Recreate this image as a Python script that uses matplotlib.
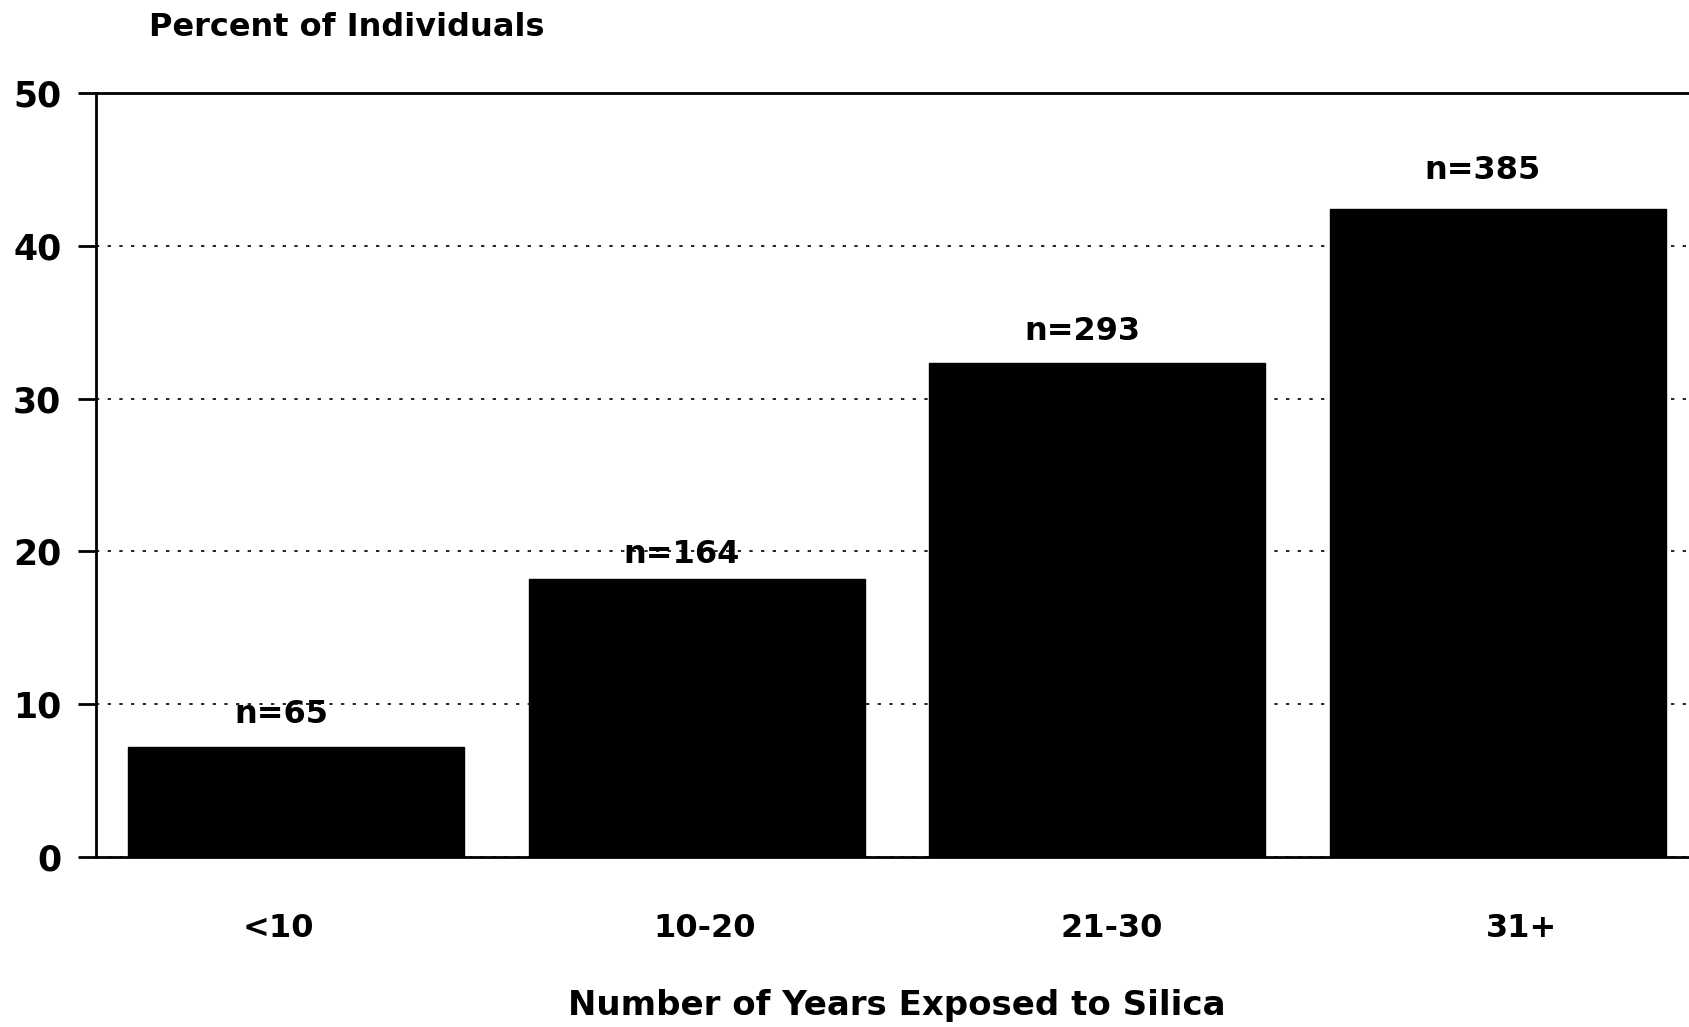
import matplotlib
matplotlib.use("Agg")
import matplotlib.pyplot as plt
import matplotlib.transforms as mtransforms

# Exposure groups and percentages
categories = ["<10", "10-20", "21-30", "31+"]
percent = [7.2, 18.2, 32.3, 42.4]
counts = ["n=65", "n=164", "n=293", "n=385"]
yticks = [0, 10, 20, 30, 40, 50]

plt.rcParams["font.family"] = ["DejaVu Sans"]
plt.rcParams["font.weight"] = "bold"

fig = plt.figure(figsize=(16.9, 10.27), dpi=100)
ax = fig.add_axes([96 / 1690, 1 - 857 / 1027, 1602 / 1690, (857 - 93) / 1027])

x = list(range(len(categories)))
ax.bar(x, percent, width=0.84, color="black", edgecolor="black", zorder=3)

ax.set_xlim(-0.5, 3.5)
ax.set_ylim(0, 50)
ax.set_yticks(yticks)
ax.set_yticklabels([str(v) for v in yticks], fontsize=25, fontweight="bold")
ax.set_xticks(x)
ax.set_xticklabels(categories, fontsize=23, fontweight="bold")

ax.tick_params(axis="y", direction="out", length=13, width=2, pad=12)
ax.tick_params(axis="x", length=0, pad=40)

# small horizontal nudges on the category labels
for lab, dx in zip(ax.get_xticklabels(), [-18, 8, 14, 24]):
    lab.set_transform(lab.get_transform() + mtransforms.ScaledTranslation(dx / 100, 0, fig.dpi_scale_trans))

ax.yaxis.grid(True, color="black", linestyle=(0, (2, 5)), linewidth=1.2, zorder=0)
ax.set_axisbelow(True)

for side in ["left", "top", "bottom"]:
    ax.spines[side].set_linewidth(2)
    ax.spines[side].set_color("black")
ax.spines["right"].set_visible(False)

# sample-size labels above bars
label_y = [9.3, 19.8, 34.4, 44.9]
for xi, ly, txt in zip(x, label_y, counts):
    ax.text(xi - 0.037, ly, txt, ha="center", va="center", fontsize=23, fontweight="bold", zorder=4)

fig.text(149 / 1690, 1 - 27 / 1027, "Percent of Individuals", ha="left", va="center",
         fontsize=23, fontweight="bold")
fig.text(897 / 1690, 1 - 1005 / 1027, "Number of Years Exposed to Silica", ha="center", va="center",
         fontsize=24.5, fontweight="bold")

fig.savefig("out.png", dpi=100, facecolor="white")
